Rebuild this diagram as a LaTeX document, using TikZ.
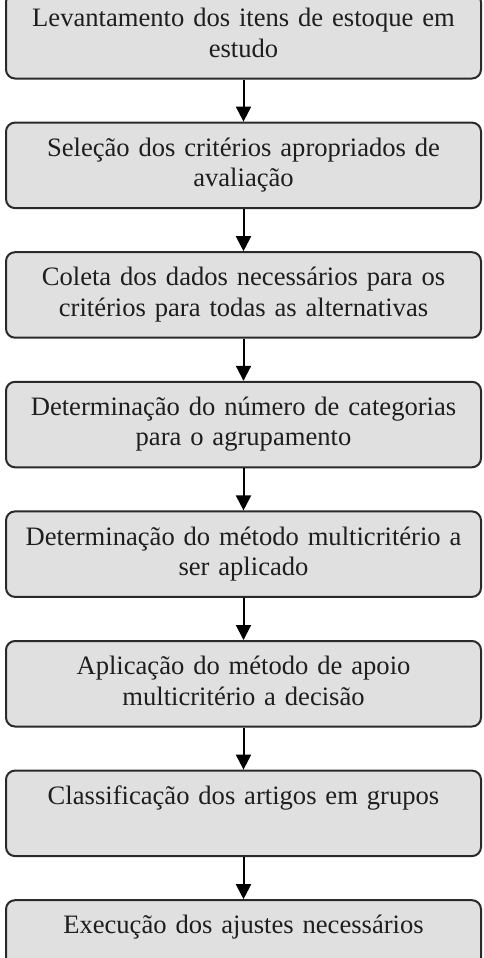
\documentclass[tikz,border=0pt]{standalone}
\usepackage{fontspec}
\setmainfont{Liberation Serif}
\usetikzlibrary{arrows.meta}
\definecolor{boxfill}{HTML}{E0E0E0}
\definecolor{boxline}{HTML}{2A2A2A}
\definecolor{txt}{HTML}{1E1E1E}
\tikzset{
  stepbox/.style={draw=boxline, line width=2pt, fill=boxfill, rounded corners=9pt,
    minimum width=475pt, minimum height=85.5pt, inner sep=0pt,
    text width=473pt, align=center, text=txt,
    font=\fontsize{26.6}{30.5}\selectfont, anchor=north},
  flow/.style={line width=2pt, draw=black, -{Triangle[width=15pt,length=15pt]}}
}
\begin{document}
\begin{tikzpicture}[x=1pt,y=-1pt]
\useasboundingbox (0,0) rectangle (484,958);
\node[stepbox] (b1) at (243.5,-8) {\strut Levantamento dos itens de estoque em\\\strut estudo};
\node[stepbox] (b2) at (243.5,121.6) {\strut Seleção dos critérios apropriados de\\\strut avaliação};
\node[stepbox] (b3) at (243.5,251.2) {\strut Coleta dos dados necessários para os\\\strut critérios para todas as alternativas};
\node[stepbox] (b4) at (243.5,380.8) {\strut Determinação do número de categorias\\\strut para o agrupamento};
\node[stepbox] (b5) at (243.5,510.4) {\strut Determinação do método multicritério a\\\strut ser aplicado};
\node[stepbox] (b6) at (243.5,640.0) {\strut Aplicação do método de apoio\\\strut multicritério a decisão};
\node[stepbox] (b7) at (243.5,769.6) {\strut Classificação dos artigos em grupos\\\strut};
\node[stepbox] (b8) at (243.5,899.2) {\strut Execução dos ajustes necessários\\\strut};
\draw[flow] (b1) -- (b2);
\draw[flow] (b2) -- (b3);
\draw[flow] (b3) -- (b4);
\draw[flow] (b4) -- (b5);
\draw[flow] (b5) -- (b6);
\draw[flow] (b6) -- (b7);
\draw[flow] (b7) -- (b8);
\end{tikzpicture}
\end{document}
